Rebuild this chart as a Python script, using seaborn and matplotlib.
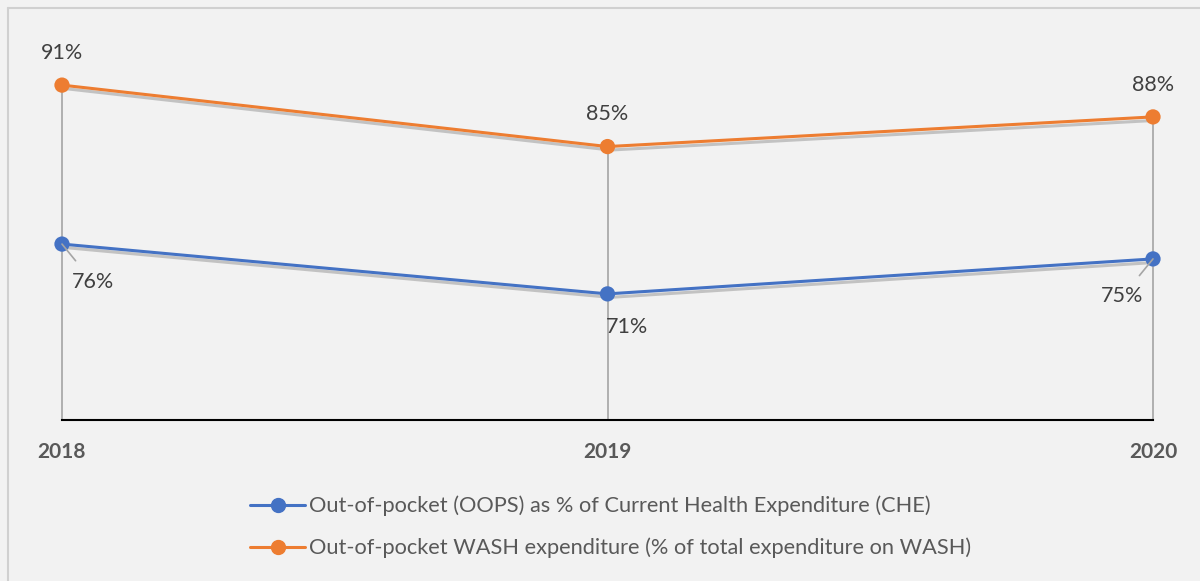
import matplotlib
matplotlib.use("Agg")
import matplotlib.pyplot as plt
import matplotlib.patheffects as pe
from matplotlib.lines import Line2D
import seaborn as sns
import pandas as pd

# ----------------------
# DATA
# ----------------------
years = ["2018", "2019", "2020"]
oops_che = [76.0, 71.3, 74.6]
wash_oop = [91.0, 85.2, 88.0]
series_names = [
    "Out-of-pocket (OOPS) as % of Current Health Expenditure (CHE)",
    "Out-of-pocket WASH expenditure (% of total expenditure on WASH)",
]
colors = ["#4472C4", "#ED7D31"]

df = pd.DataFrame({
    "year": list(range(len(years))) * 2,
    "value": oops_che + wash_oop,
    "series": [series_names[0]] * 3 + [series_names[1]] * 3,
})

# ----------------------
# STYLE
# ----------------------
sns.set_style("white")
plt.rcParams["font.family"] = ["Lato", "DejaVu Sans"]
bg = "#F2F2F2"

fig = plt.figure(figsize=(12, 5.81), dpi=100, facecolor=bg)
# chart border (left and top edges visible)
fig.add_artist(Line2D([8 / 1200, 8 / 1200], [0, 1 - 8 / 581], transform=fig.transFigure,
                      color="#D0D0D0", lw=1.5))
fig.add_artist(Line2D([8 / 1200, 1], [1 - 8 / 581, 1 - 8 / 581], transform=fig.transFigure,
                      color="#D0D0D0", lw=1.5))

ax = fig.add_axes([62 / 1200, 1 - 420 / 581, (1153 - 62) / 1200, 390 / 581])
ax.set_facecolor("none")

shadow = [pe.SimpleLineShadow(offset=(2, -2.5), shadow_color="#555555", alpha=0.3),
          pe.Normal()]

# drop lines
for i in range(len(years)):
    top = max(oops_che[i], wash_oop[i])
    ax.plot([i, i], [59.4, top], color="#A5A5A5", lw=1.2, zorder=1)

sns.lineplot(data=df, x="year", y="value", hue="series", palette=colors,
             marker="o", markersize=11, markeredgewidth=0, linewidth=2.2,
             ax=ax, legend=False, zorder=3, path_effects=shadow)
for ln in ax.lines:
    ln.set_clip_on(False)

ax.set_xlim(0, 2)
ax.set_ylim(59.4, 96.2)
ax.set_xticks(range(len(years)))
ax.set_xticklabels(years, fontsize=15, fontweight="bold", color="#595959")
ax.tick_params(axis="x", length=0, pad=16)
ax.set_yticks([])
ax.set_xlabel("")
ax.set_ylabel("")
for s in ["top", "right", "left"]:
    ax.spines[s].set_visible(False)
ax.spines["bottom"].set_color("black")
ax.spines["bottom"].set_linewidth(1.5)

# labels - orange above
for i, v in enumerate(wash_oop):
    ax.annotate(f"{v:.0f}%", (i, v), xytext=(0, 16), textcoords="offset points",
                va="bottom", ha="center", fontsize=15.5, color="#404040")

# labels - blue with leader lines
blue_offsets = [(22, -27), (14, -24), (-22, -27)]
for i, v in enumerate(oops_che):
    dx, dy = blue_offsets[i]
    ax.annotate(f"{v:.0f}%", (i, v), xytext=(dx, dy), textcoords="offset points",
                va="center", ha="center", fontsize=15.5, color="#404040",
                arrowprops=dict(arrowstyle="-", color="#A5A5A5", lw=1.2,
                                shrinkA=7, shrinkB=0) if i != 1 else None)

# legend
handles = [Line2D([0], [0], color=c, lw=2.2, marker="o", markersize=10) for c in colors]
fig.legend(handles, series_names, loc="center", bbox_to_anchor=(0.5085, 1 - 527 / 581),
           ncol=1, frameon=False, fontsize=15.7, labelcolor="#595959",
           handlelength=2.55, handletextpad=0.15, labelspacing=0.98)

fig.savefig("out.png", dpi=100, facecolor=bg)
